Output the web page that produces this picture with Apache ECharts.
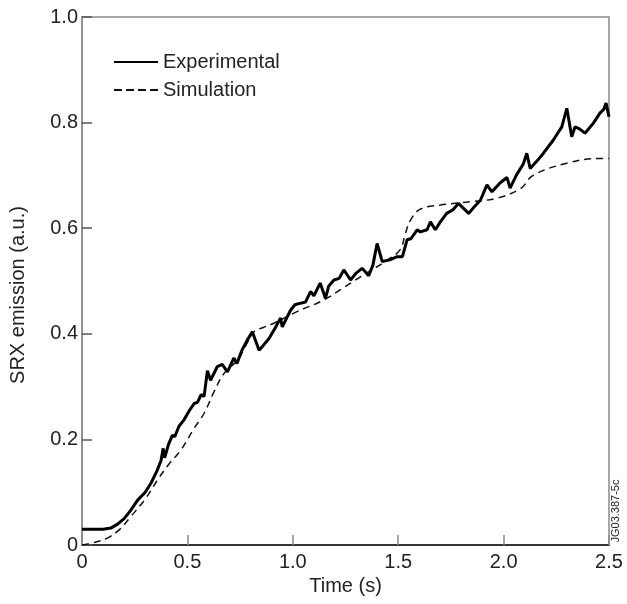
<!DOCTYPE html>
<html>
<head>
<meta charset="utf-8">
<script src="https://cdn.jsdelivr.net/npm/echarts@6/dist/echarts.min.js"></script>
<style>html,body{margin:0;padding:0;background:#fff}#c{width:627px;height:604px}</style>
</head>
<body>
<div id="c"></div>
<script>
var expTime = [0,0.05,0.10,0.137,0.17,0.20,0.23,0.264,0.30,0.327,0.355,0.375,0.385,0.392,0.41,0.429,0.44,0.46,0.484,0.51,0.532,0.548,0.565,0.579,0.595,0.61,0.642,0.665,0.69,0.72,0.735,0.76,0.784,0.808,0.84,0.86,0.887,0.915,0.942,0.95,0.99,1.01,1.037,1.06,1.084,1.10,1.13,1.155,1.17,1.195,1.22,1.242,1.274,1.30,1.329,1.36,1.38,1.40,1.424,1.46,1.495,1.52,1.542,1.56,1.59,1.605,1.637,1.653,1.676,1.70,1.73,1.76,1.786,1.834,1.86,1.89,1.921,1.945,1.984,2.016,2.031,2.06,2.094,2.11,2.126,2.16,2.189,2.236,2.276,2.30,2.323,2.339,2.36,2.386,2.426,2.457,2.475,2.486,2.5];
var expSignal = [0.03,0.03,0.03,0.032,0.04,0.05,0.065,0.085,0.10,0.117,0.14,0.16,0.183,0.165,0.19,0.208,0.205,0.225,0.237,0.255,0.268,0.27,0.285,0.281,0.33,0.312,0.338,0.342,0.328,0.354,0.344,0.37,0.388,0.404,0.369,0.378,0.391,0.41,0.43,0.413,0.445,0.455,0.458,0.46,0.48,0.472,0.496,0.467,0.49,0.502,0.505,0.521,0.502,0.515,0.524,0.51,0.53,0.571,0.537,0.54,0.546,0.546,0.578,0.58,0.597,0.593,0.597,0.612,0.597,0.612,0.628,0.635,0.647,0.628,0.64,0.653,0.682,0.669,0.686,0.696,0.676,0.70,0.722,0.742,0.713,0.728,0.742,0.767,0.792,0.827,0.773,0.792,0.788,0.78,0.799,0.818,0.825,0.837,0.811];
var simTime = [0,0.06,0.12,0.18,0.232,0.30,0.358,0.41,0.469,0.532,0.58,0.626,0.674,0.737,0.78,0.816,0.86,0.91,1.02,1.147,1.25,1.35,1.45,1.51,1.534,1.558,1.605,1.70,1.842,1.968,2.08,2.14,2.30,2.457,2.5];
var simSignal = [0.0,0.005,0.013,0.03,0.054,0.087,0.123,0.152,0.18,0.221,0.25,0.29,0.325,0.35,0.38,0.404,0.412,0.42,0.442,0.464,0.49,0.515,0.54,0.56,0.59,0.615,0.636,0.644,0.65,0.657,0.675,0.70,0.723,0.732,0.732];
var xTickLabels = ['0','0.5','1.0','1.5','2.0','2.5'];
var yTickLabels = ['0','0.2','0.4','0.6','0.8','1.0'];
var seriesNames = ['Experimental','Simulation'];
var xTitle = 'Time (s)';
var yTitle = 'SRX emission (a.u.)';
var stamp = 'JG03.387-5c';

function pairs(a,b){var r=[];for(var i=0;i<a.length;i++)r.push([a[i],b[i]]);return r;}
var FONT = '"Liberation Sans", Arial, Helvetica, sans-serif';
var SOLID_ICON = 'path://M0,0h44v2h-44z';
var DASH_ICON = 'path://M0,0h8v2h-8z M12,0h8v2h-8z M24,0h8v2h-8z M36,0h8v2h-8z';
var chart = echarts.init(document.getElementById('c'), null, {renderer:'canvas'});
chart.setOption({
  animation:false,
  backgroundColor:'#fff',
  textStyle:{fontFamily:FONT},
  grid:{left:81,right:18,top:17,bottom:59,show:true,borderColor:'#8a8a8a',borderWidth:1.5,backgroundColor:'transparent'},
  legend:{
    orient:'vertical',left:109,top:47,itemWidth:44,itemHeight:2,itemGap:8,
    textStyle:{fontFamily:FONT,fontSize:20,color:'#222'},
    data:[{name:seriesNames[0],icon:SOLID_ICON,itemStyle:{color:'#000'}},{name:seriesNames[1],icon:DASH_ICON,itemStyle:{color:'#111'}}]
  },
  xAxis:{
    type:'value',min:0,max:2.5,interval:0.5,
    name:xTitle,nameLocation:'middle',nameGap:26,
    nameTextStyle:{fontFamily:FONT,fontSize:20,color:'#222'},
    axisLine:{lineStyle:{color:'#111',width:1.5}},
    axisTick:{inside:true,length:10,lineStyle:{color:'#8a8a8a',width:1.5}},
    axisLabel:{fontFamily:FONT,fontSize:20,color:'#222',margin:7,formatter:function(v){return xTickLabels[Math.round(v/0.5)];}},
    splitLine:{show:false}
  },
  yAxis:{
    type:'value',min:0,max:1,interval:0.2,
    name:yTitle,nameLocation:'middle',nameGap:54,nameRotate:90,
    nameTextStyle:{fontFamily:FONT,fontSize:20,color:'#222',padding:[0,28,0,0]},
    axisLine:{lineStyle:{color:'#8a8a8a',width:1.5}},
    axisTick:{inside:true,length:10,lineStyle:{color:'#555',width:1.5}},
    axisLabel:{fontFamily:FONT,fontSize:20,color:'#222',margin:4,formatter:function(v){return yTickLabels[Math.round(v/0.2)];}},
    splitLine:{show:false}
  },
  series:[
    {name:seriesNames[0],type:'line',symbol:'none',data:pairs(expTime,expSignal),lineStyle:{color:'#000',width:3},itemStyle:{color:'#000'},z:3},
    {name:seriesNames[1],type:'line',symbol:'none',smooth:0.4,data:pairs(simTime,simSignal),lineStyle:{color:'#111',width:1.5,type:[7,5]},itemStyle:{color:'#111'},z:2}
  ],
  graphic:[{type:'text',x:616,y:511,rotation:Math.PI/2,style:{text:stamp,fontFamily:FONT,fontSize:11,fill:'#222',align:'center',verticalAlign:'middle'}}]
});
</script>
</body>
</html>
